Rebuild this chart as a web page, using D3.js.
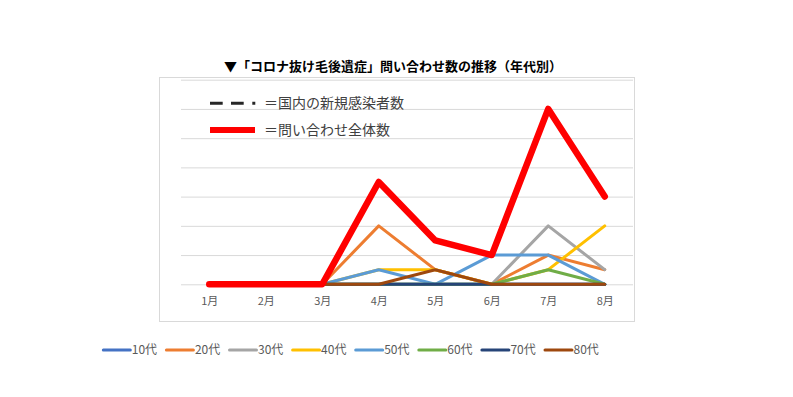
<!DOCTYPE html>
<html>
<head>
<meta charset="utf-8">
<script src="https://cdn.jsdelivr.net/npm/d3@7"></script>
<style>
  html, body { margin: 0; padding: 0; background: #fff; }
  svg { display: block; font-family: "Noto Sans CJK JP", "Noto Sans", sans-serif; }
</style>
</head>
<body>
<svg id="chart" width="793" height="397"></svg>
<script>
// ---- data ----
const months = ["1月", "2月", "3月", "4月", "5月", "6月", "7月", "8月"];
const seriesNames = ["10代", "20代", "30代", "40代", "50代", "60代", "70代", "80代"];
const seriesColors = ["#4472C4", "#ED7D31", "#A5A5A5", "#FFC000", "#5B9BD5", "#70AD47", "#264478", "#9E480E"];
const v10 = [0, 0, 0, 0, 0, 0, 0, 0];
const v20 = [0, 0, 0, 4, 1, 0, 2, 1];
const v30 = [0, 0, 0, 0, 0, 0, 4, 1];
const v40 = [0, 0, 0, 1, 1, 0, 1, 4];
const v50 = [0, 0, 0, 1, 0, 2, 2, 0];
const v60 = [0, 0, 0, 0, 0, 0, 1, 0];
const v70 = [0, 0, 0, 0, 0, 0, 0, 0];
const v80 = [0, 0, 0, 0, 1, 0, 0, 0];
const totalValues = [0, 0, 0, 7, 3, 2, 12, 6];
const seriesValues = [v10, v20, v30, v40, v50, v60, v70, v80];
const yTicks = [0, 2, 4, 6, 8, 10, 12, 14];
const title = "▼「コロナ抜け毛後遺症」問い合わせ数の推移（年代別）";
const legendInner = ["＝国内の新規感染者数", "＝問い合わせ全体数"];

// ---- layout ----
const svg = d3.select("#chart");
const plot = { left: 181, right: 633, top: 79.7, bottom: 284.3 };

const x = d3.scalePoint().domain(months).range([plot.left, plot.right]).padding(0.5);
const y = d3.scaleLinear().domain([0, 14]).range([plot.bottom, plot.top]);

// inner chart border
svg.append("rect")
  .attr("x", 159.5).attr("y", 77.5).attr("width", 475).attr("height", 244)
  .attr("fill", "none").attr("stroke", "#d9d9d9").attr("stroke-width", 1);

// title
svg.append("text")
  .attr("x", 393).attr("y", 66).attr("dy", "0.35em")
  .attr("text-anchor", "middle")
  .attr("font-size", 13).attr("font-weight", "bold").attr("fill", "#000")
  .text(title);

// gridlines
const grid = svg.append("g").attr("transform", `translate(${plot.left},0)`)
  .call(d3.axisLeft(y).tickValues(yTicks).tickSize(-(plot.right - plot.left)).tickFormat(""));
grid.select(".domain").remove();
grid.selectAll(".tick line").attr("stroke", "#d9d9d9").attr("stroke-width", 1);

// x axis labels
const xa = svg.append("g").attr("transform", `translate(0,${plot.bottom})`)
  .call(d3.axisBottom(x).tickSize(0).tickPadding(13));
xa.select(".domain").remove();
xa.selectAll("text").attr("font-size", 11).attr("fill", "#595959")
  .attr("font-family", "'Noto Sans CJK JP', sans-serif");

// series lines
const line = d3.line().x((d, i) => x(months[i])).y(d => y(d));
seriesValues.forEach((vals, k) => {
  svg.append("path")
    .datum(vals)
    .attr("d", line)
    .attr("fill", "none")
    .attr("stroke", seriesColors[k])
    .attr("stroke-width", 3)
    .attr("stroke-linejoin", "round")
    .attr("stroke-linecap", "round");
});

// total line
svg.append("path")
  .datum(totalValues)
  .attr("d", line)
  .attr("fill", "none")
  .attr("stroke", "#FF0000")
  .attr("stroke-width", 6.5)
  .attr("stroke-linejoin", "round")
  .attr("stroke-linecap", "round");

// inner legend
svg.append("line")
  .attr("x1", 210).attr("x2", 256).attr("y1", 103.3).attr("y2", 103.3)
  .attr("stroke", "#262626").attr("stroke-width", 3)
  .attr("stroke-dasharray", "12.7 8.3 12.7 8.6 3 100");
svg.append("line")
  .attr("x1", 210).attr("x2", 255).attr("y1", 130).attr("y2", 130)
  .attr("stroke", "#FF0000").attr("stroke-width", 6);
legendInner.forEach((t, i) => {
  svg.append("text")
    .attr("x", 264).attr("y", i === 0 ? 103 : 130).attr("dy", "0.35em")
    .attr("font-size", 14).attr("fill", "#404040")
    .text(t);
});

// bottom legend
const lg = svg.append("g");
seriesNames.forEach((name, i) => {
  const x0 = 103.3 + i * 63.1;
  lg.append("line")
    .attr("x1", x0).attr("x2", x0 + 27).attr("y1", 350).attr("y2", 350)
    .attr("stroke", seriesColors[i]).attr("stroke-width", 3).attr("stroke-linecap", "round");
  lg.append("text")
    .attr("x", x0 + 28.5).attr("y", 350).attr("dy", "0.35em")
    .attr("font-size", 12).attr("fill", "#595959")
    .text(name);
});
</script>
</body>
</html>
